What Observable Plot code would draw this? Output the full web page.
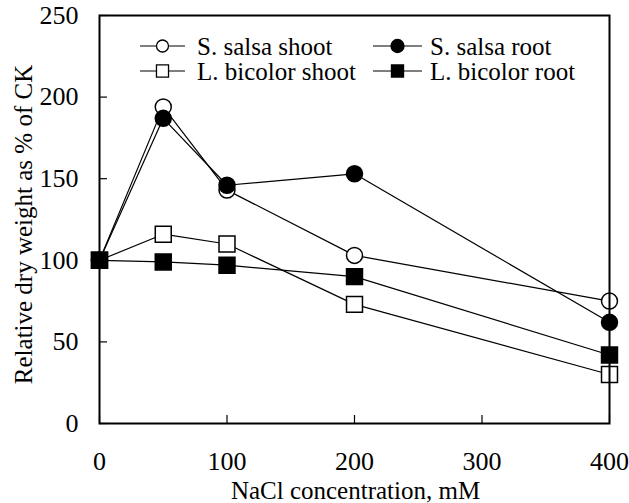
<!DOCTYPE html>
<html>
<head>
<meta charset="utf-8">
<script src="https://cdn.jsdelivr.net/npm/d3@7"></script>
<script src="https://cdn.jsdelivr.net/npm/@observablehq/plot@0.6"></script>
<style>
  body { margin: 0; background: #fff; overflow: hidden; }
  #chart svg { font-family: "Liberation Serif", serif; }
</style>
</head>
<body>
<div id="chart"></div>
<script>
// NaCl treatment levels (mM) and relative dry weight (% of control)
const nacl = [0, 50, 100, 200, 400];
const salsaShoot = [100, 194, 143, 103, 75];
const salsaRoot = [100, 187, 146, 153, 62];
const bicolorShoot = [100, 116, 110, 73, 30];
const bicolorRoot = [100, 99, 97, 90, 42];

const seriesNames = ["S. salsa shoot", "S. salsa root", "L. bicolor shoot", "L. bicolor root"];
const seriesValues = [salsaShoot, salsaRoot, bicolorShoot, bicolorRoot];
const xTicks = [0, 100, 200, 300, 400];
const yTicks = [0, 50, 100, 150, 200, 250];

// marker style per series: open/filled circles and squares
const styles = {
  "S. salsa shoot": {symbol: "circle", fill: "white", r: 8, lr: 6},
  "S. salsa root": {symbol: "circle", fill: "black", r: 8, lr: 6.5},
  "L. bicolor shoot": {symbol: "square", fill: "white", r: 9, lr: 6.8},
  "L. bicolor root": {symbol: "square", fill: "black", r: 9, lr: 6.8}
};

const rows = seriesNames.flatMap((name, i) =>
  nacl.map((x, j) => ({series: name, x, y: seriesValues[i][j]}))
);

// markers drawn in this order so filled symbols sit on top
const drawOrder = ["S. salsa shoot", "L. bicolor shoot", "S. salsa root", "L. bicolor root"];

const W = 629, H = 503;
const mL = 99, mR = 20, mT = 15, mB = 80;
const innerW = W - mL - mR, innerH = H - mT - mB;
const tickLen = 8;

const chart = Plot.plot({
  width: W,
  height: H,
  marginLeft: mL,
  marginRight: mR,
  marginTop: mT,
  marginBottom: mB,
  style: {fontFamily: "'Liberation Serif', serif", fontSize: "25px"},
  x: {domain: [0, 400]},
  y: {domain: [0, 250]},
  marks: [
    Plot.line(rows, {x: "x", y: "y", z: "series", stroke: "black", strokeWidth: 1.2}),
    ...drawOrder.map(name =>
      Plot.dot(rows.filter(d => d.series === name), {
        x: "x", y: "y",
        symbol: styles[name].symbol,
        r: styles[name].r,
        fill: styles[name].fill,
        stroke: "black",
        strokeWidth: 1.5
      })
    ),
    // inward tick marks
    Plot.tickY(yTicks, {y: d => d, insetRight: innerW - tickLen, stroke: "black", strokeWidth: 1.2}),
    Plot.tickX(xTicks, {x: d => d, insetTop: innerH - tickLen, stroke: "black", strokeWidth: 1.2}),
    Plot.axisY({ticks: yTicks, tickSize: 0, tickPadding: 21, label: null, fontSize: 26}),
    Plot.axisX({ticks: xTicks, tickSize: 0, tickPadding: 28, label: null, fontSize: 26}),
    // box around the plotting area
    Plot.frame({stroke: "black", strokeWidth: 2}),
    Plot.text(["Relative dry weight as % of CK"], {
      frameAnchor: "left", textAnchor: "middle", rotate: -90, dx: -76, dy: 5,
      fill: "black", fontSize: 25
    }),
    Plot.text(["NaCl concentration, mM"], {
      frameAnchor: "bottom", textAnchor: "middle", lineAnchor: "bottom", dx: 1, dy: 75,
      fill: "black", fontSize: 25
    })
  ]
});

document.getElementById("chart").append(chart);

// legend inside the frame, two columns by two rows
const svg = d3.select(chart);
const legend = svg.append("g").attr("class", "legend");
const legendItems = [
  {name: "S. salsa shoot", col: 0, row: 0},
  {name: "S. salsa root", col: 1, row: 0},
  {name: "L. bicolor shoot", col: 0, row: 1},
  {name: "L. bicolor root", col: 1, row: 1}
];
const colX = [140, 373];
const segLen = [45, 49];
const textX = [197, 430];
const rowY = [46, 71];
for (const item of legendItems) {
  const lx = colX[item.col], ly = rowY[item.row];
  const st = styles[item.name];
  const g = legend.append("g");
  g.append("line")
    .attr("x1", lx).attr("x2", lx + segLen[item.col])
    .attr("y1", ly).attr("y2", ly)
    .attr("stroke", "black").attr("stroke-width", 1.2);
  const sym = st.symbol === "circle" ? d3.symbolCircle : d3.symbolSquare;
  g.append("path")
    .attr("d", d3.symbol(sym, Math.PI * st.lr * st.lr)())
    .attr("transform", `translate(${lx + segLen[item.col] / 2},${ly})`)
    .attr("fill", st.fill).attr("stroke", "black").attr("stroke-width", 1.3);
  g.append("text")
    .attr("x", textX[item.col]).attr("y", ly + 9)
    .attr("text-anchor", "start")
    .attr("fill", "black")
    .text(item.name);
}
</script>
</body>
</html>
